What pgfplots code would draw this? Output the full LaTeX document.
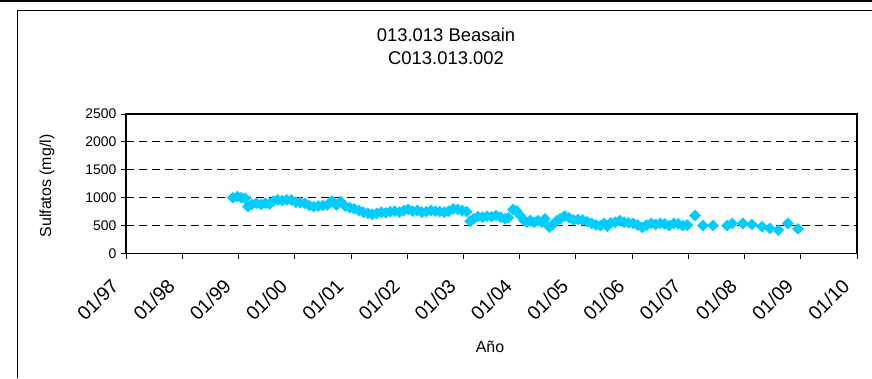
\documentclass[border=0pt]{standalone}
\usepackage{fontspec}
\setmainfont{Liberation Sans}
\usepackage{pgfplots}
\pgfplotsset{compat=1.18}
\definecolor{aqua}{RGB}{0,204,255}
\pgfplotstableread{
x y
1998.90 1000
1998.98 1020
1999.05 1000
1999.12 990
1999.17 840
1999.24 880
1999.32 900
1999.40 880
1999.48 900
1999.55 890
1999.62 940
1999.70 960
1999.78 950
1999.86 960
1999.94 960
2000.02 920
2000.10 910
2000.18 900
2000.26 860
2000.34 840
2000.42 850
2000.50 860
2000.58 870
2000.66 940
2000.74 870
2000.82 930
2000.90 850
2000.98 820
2001.06 800
2001.14 770
2001.22 740
2001.30 720
2001.38 700
2001.46 720
2001.54 740
2001.62 730
2001.70 750
2001.78 760
2001.86 740
2001.94 770
2002.02 790
2002.10 760
2002.18 770
2002.26 740
2002.34 750
2002.42 770
2002.50 760
2002.58 750
2002.66 740
2002.74 760
2002.82 800
2002.90 790
2002.98 770
2003.06 750
2003.12 580
2003.18 620
2003.26 660
2003.34 650
2003.42 670
2003.50 660
2003.58 680
2003.66 650
2003.74 620
2003.80 640
2003.88 790
2003.95 760
2004.01 680
2004.07 600
2004.13 560
2004.19 590
2004.26 560
2004.33 590
2004.40 560
2004.45 620
2004.53 470
2004.59 520
2004.66 590
2004.72 620
2004.80 670
2004.88 640
2004.96 600
2005.04 610
2005.12 600
2005.20 570
2005.28 540
2005.36 510
2005.44 500
2005.50 540
2005.56 490
2005.62 550
2005.70 560
2005.78 590
2005.86 560
2005.94 550
2006.02 540
2006.10 510
2006.18 470
2006.26 510
2006.34 540
2006.42 520
2006.50 540
2006.58 530
2006.66 500
2006.74 540
2006.82 530
2006.90 500
2006.98 510
2007.12 680
2007.26 500
2007.44 500
2007.69 500
2007.78 540
2007.97 540
2008.13 520
2008.31 480
2008.45 450
2008.60 420
2008.77 540
2008.95 440
}\sulfatos
\begin{document}
\begin{tikzpicture}[x=1bp,y=1bp]
\path[use as bounding box] (0,0) rectangle (872,378);
\draw[line width=1.5bp] (0,377) -- (872,377);
\draw[line width=1bp] (17,0) -- (17,367) -- (872,367);
\node[font=\fontsize{18.5}{21}\selectfont] at (446,343) {013.013 Beasain};
\node[font=\fontsize{18.5}{21}\selectfont] at (446,320) {C013.013.002};
\node[font=\fontsize{16}{18}\selectfont] at (490,31) {Año};
\node[font=\fontsize{16}{18}\selectfont, rotate=90] at (47,192) {Sulfatos (mg/l)};
\begin{axis}[
  at={(126bp,124.5bp)}, anchor=south west,
  scale only axis, width=731bp, height=139.5bp,
  xmin=1997, xmax=2010, ymin=0, ymax=2500,
  xtick={1997,...,2010},
  xticklabels={01/97,01/98,01/99,01/00,01/01,01/02,01/03,01/04,01/05,01/06,01/07,01/08,01/09,01/10},
  ytick={0,500,...,2500},
  ymajorgrids,
  grid style={black, line width=0.8bp, dash pattern=on 8bp off 5bp},
  axis line style={black, line width=1.6bp},
  tick style={black, line width=0.8bp},
  tick align=outside, major tick length=5bp,
  tick pos=left,
  /pgf/number format/1000 sep={},
  /pgf/number format/assume math mode=true,
  y tick label style={font=\fontsize{14}{16}\selectfont, xshift=-1bp},
  x tick label style={font=\fontsize{19.5}{22}\selectfont, xshift=-11bp, yshift=-24bp, rotate=45, anchor=east, inner sep=0pt},
]
\addplot[only marks, mark=square*, mark size=3.9bp, mark options={rotate=45, fill=aqua, draw=aqua}] table {\sulfatos};
\end{axis}
\end{tikzpicture}
\end{document}
